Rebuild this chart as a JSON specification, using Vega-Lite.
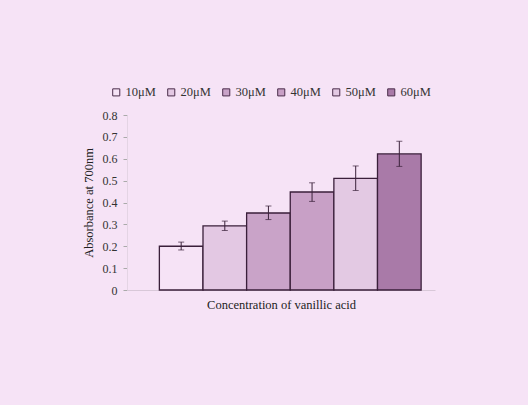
{
  "$schema": "https://vega.github.io/schema/vega-lite/v6.json",
  "autosize": "none",
  "width": 308,
  "height": 175,
  "padding": {"left": 127, "top": 115, "right": 93, "bottom": 115},
  "background": "#f6e3f6",
  "config": {
    "view": {"stroke": null},
    "font": "Liberation Serif",
    "axis": {"labelFont": "Liberation Serif", "titleFont": "Liberation Serif", "titleFontWeight": "normal"},
    "legend": {"labelFont": "Liberation Serif"}
  },
  "data": {
    "values": [
      {"conc": "10μM", "abs": 0.20, "lo": 0.183, "hi": 0.219},
      {"conc": "20μM", "abs": 0.293, "lo": 0.272, "hi": 0.315},
      {"conc": "30μM", "abs": 0.352, "lo": 0.322, "hi": 0.384},
      {"conc": "40μM", "abs": 0.448, "lo": 0.405, "hi": 0.49},
      {"conc": "50μM", "abs": 0.51, "lo": 0.455, "hi": 0.567},
      {"conc": "60μM", "abs": 0.622, "lo": 0.565, "hi": 0.68}
    ]
  },
  "encoding": {
    "x": {
      "field": "conc", "type": "nominal",
      "scale": {"paddingInner": 0, "paddingOuter": 0.53, "align": 0.7},
      "axis": {"title": "Concentration of vanillic acid", "labels": false, "ticks": false, "domainColor": "#d8c8d8", "titleFontSize": 12.5, "titleColor": "#222", "titlePadding": 8}
    }
  },
  "layer": [
    {
      "mark": {"type": "bar", "stroke": "#3a1f3a", "strokeWidth": 1.3},
      "encoding": {
        "y": {
          "field": "abs", "type": "quantitative",
          "scale": {"domain": [0, 0.8]},
          "axis": {
            "title": "Absorbance at 700nm",
            "values": [0, 0.1, 0.2, 0.3, 0.4, 0.5, 0.6, 0.7, 0.8],
            "format": "~g",
            "labelOverlap": false,
            "grid": false,
            "domainColor": "#e4d4e4",
            "tickColor": "#aaa",
            "tickSize": 4,
            "labelFontSize": 12,
            "labelColor": "#333",
            "labelPadding": 6,
            "titleFontSize": 12.5,
            "titleColor": "#222",
            "titlePadding": 7
          }
        },
        "fill": {
          "field": "conc", "type": "nominal",
          "scale": {
            "domain": ["10μM", "20μM", "30μM", "40μM", "50μM", "60μM"],
            "range": ["#f6e3f6", "#e3c8e3", "#c9a3c8", "#c8a0c6", "#e3c9e3", "#a97aa8"]
          },
          "legend": {
            "orient": "none",
            "legendX": -17,
            "legendY": -29,
            "direction": "horizontal",
            "title": null,
            "symbolType": "square",
            "symbolSize": 50,
            "symbolStrokeColor": "#4a2c4a",
            "symbolStrokeWidth": 1,
            "labelFontSize": 12.5,
            "labelColor": "#333",
            "labelOffset": 3,
            "columnPadding": 9
          }
        }
      }
    },
    {
      "mark": {"type": "errorbar", "ticks": {"size": 6, "color": "#3a223a"}, "rule": {"color": "#3a223a"}},
      "encoding": {
        "y": {
          "field": "lo", "type": "quantitative",
          "scale": {"domain": [0, 0.8]},
          "axis": {
            "title": "Absorbance at 700nm",
            "values": [0, 0.1, 0.2, 0.3, 0.4, 0.5, 0.6, 0.7, 0.8],
            "format": "~g",
            "labelOverlap": false,
            "grid": false,
            "domainColor": "#e4d4e4",
            "tickColor": "#aaa",
            "tickSize": 4,
            "labelFontSize": 12,
            "labelColor": "#333",
            "labelPadding": 6,
            "titleFontSize": 12.5,
            "titleColor": "#222",
            "titlePadding": 7
          }
        },
        "y2": {"field": "hi"}
      }
    }
  ]
}
